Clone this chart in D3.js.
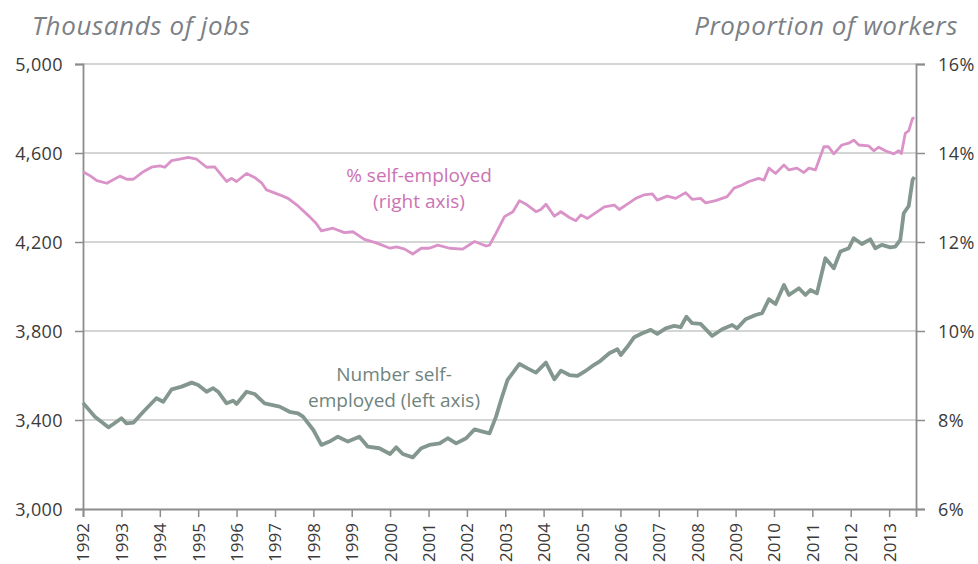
<!DOCTYPE html>
<html><head><meta charset="utf-8">
<script src="https://cdn.jsdelivr.net/npm/d3@7/dist/d3.min.js"></script>
<style>
html,body{margin:0;padding:0;background:#fff;}
svg text{font-family:"Open Sans",Lato,sans-serif;}
</style></head>
<body><svg id="chart" width="978" height="564"></svg>
<script>
// ---- data (decimal years) ----
const numYears = [1992.0,1992.31,1992.66,1992.79,1993.0,1993.13,1993.31,1993.57,1993.91,1994.09,1994.31,1994.57,1994.83,1995.0,1995.22,1995.39,1995.52,1995.74,1995.91,1996.0,1996.26,1996.47,1996.73,1997.12,1997.38,1997.6,1997.73,1998.0,1998.21,1998.42,1998.64,1998.9,1999.2,1999.42,1999.72,2000.0,2000.16,2000.33,2000.59,2000.81,2001.02,2001.29,2001.5,2001.72,2001.98,2002.2,2002.41,2002.59,2002.76,2002.89,2003.06,2003.37,2003.58,2003.8,2004.06,2004.28,2004.45,2004.67,2004.88,2005.06,2005.27,2005.45,2005.71,2005.92,2006.01,2006.18,2006.36,2006.57,2006.79,2006.96,2007.18,2007.4,2007.57,2007.72,2007.87,2008.09,2008.39,2008.65,2008.91,2009.04,2009.26,2009.52,2009.69,2009.87,2010.04,2010.26,2010.39,2010.65,2010.82,2010.95,2011.12,2011.34,2011.56,2011.73,2011.95,2012.08,2012.29,2012.51,2012.64,2012.81,2013.03,2013.16,2013.29,2013.38,2013.51,2013.61,2013.66];
const numValues = [3477,3415,3367,3382,3408,3385,3388,3437,3498,3482,3538,3550,3568,3557,3527,3543,3527,3475,3487,3472,3527,3517,3475,3460,3437,3430,3415,3355,3288,3303,3325,3303,3325,3280,3273,3247,3277,3247,3232,3273,3288,3295,3318,3295,3318,3358,3348,3340,3415,3490,3580,3652,3632,3613,3658,3583,3622,3602,3598,3617,3643,3662,3700,3718,3692,3729,3772,3790,3805,3787,3812,3823,3817,3864,3835,3832,3778,3808,3827,3812,3853,3872,3880,3943,3921,4007,3962,3992,3962,3984,3969,4127,4082,4157,4172,4217,4191,4212,4172,4187,4176,4179,4209,4329,4362,4479,4492];

const pctYears = [1992.0,1992.2,1992.36,1992.62,1992.75,1992.96,1993.14,1993.31,1993.57,1993.78,1994.0,1994.13,1994.31,1994.52,1994.74,1994.96,1995.22,1995.43,1995.74,1995.87,1996.0,1996.26,1996.47,1996.65,1996.78,1997.12,1997.34,1997.6,1997.9,1998.07,1998.21,1998.51,1998.81,1999.03,1999.33,1999.64,2000.0,2000.17,2000.38,2000.59,2000.81,2001.02,2001.24,2001.55,2001.89,2002.2,2002.5,2002.59,2002.76,2002.98,2003.2,2003.37,2003.54,2003.8,2003.93,2004.06,2004.28,2004.45,2004.67,2004.84,2004.97,2005.14,2005.36,2005.58,2005.84,2005.97,2006.18,2006.4,2006.62,2006.83,2006.96,2007.22,2007.44,2007.7,2007.87,2008.09,2008.22,2008.48,2008.78,2008.96,2009.17,2009.35,2009.6,2009.74,2009.87,2010.04,2010.26,2010.39,2010.6,2010.78,2010.91,2011.08,2011.3,2011.42,2011.56,2011.77,2011.95,2012.08,2012.21,2012.47,2012.6,2012.73,2012.9,2013.12,2013.25,2013.32,2013.42,2013.51,2013.61,2013.66];
const pctValues = [13.58,13.48,13.38,13.32,13.38,13.48,13.41,13.41,13.58,13.68,13.71,13.68,13.83,13.86,13.90,13.86,13.68,13.69,13.36,13.43,13.36,13.54,13.45,13.33,13.17,13.06,12.98,12.81,12.57,12.42,12.25,12.31,12.21,12.23,12.06,11.98,11.86,11.89,11.84,11.73,11.86,11.86,11.93,11.86,11.84,12.01,11.91,11.93,12.20,12.57,12.68,12.93,12.85,12.68,12.73,12.85,12.58,12.68,12.55,12.48,12.61,12.53,12.66,12.79,12.83,12.73,12.85,12.98,13.06,13.08,12.94,13.03,12.98,13.11,12.96,12.98,12.88,12.93,13.02,13.21,13.28,13.36,13.43,13.39,13.66,13.54,13.73,13.62,13.66,13.56,13.66,13.62,14.14,14.14,13.98,14.18,14.22,14.29,14.18,14.16,14.05,14.13,14.05,13.98,14.05,13.99,14.44,14.50,14.78,14.79];

const yearTicks = d3.range(1992, 2014);
const leftTicks = [3000, 3400, 3800, 4200, 4600, 5000];
const rightTicks = [6, 8, 10, 12, 14, 16];
const leftTitle = "Thousands of jobs";
const rightTitle = "Proportion of workers";
const pctLabel = ["% self-employed", "(right axis)"];
const numLabel = ["Number self-", "employed (left axis)"];

// ---- helpers ----
function toDate(y) {
  const yr = Math.floor(y);
  const start = new Date(yr, 0, 1).getTime();
  const end = new Date(yr + 1, 0, 1).getTime();
  return new Date(start + (y - yr) * (end - start));
}

const svg = d3.select("#chart");
const L = 83, R = 916, T = 64, B = 509;

const x = d3.scaleTime().domain([toDate(1992), toDate(2013.7)]).range([L, R]);
const yL = d3.scaleLinear().domain([3000, 5000]).range([B, T]);
const yR = d3.scaleLinear().domain([6, 16]).range([B, T]);

// gridlines
svg.append("g").selectAll("line").data(leftTicks.slice(1)).join("line")
  .attr("x1", L).attr("x2", R)
  .attr("y1", d => yL(d)).attr("y2", d => yL(d))
  .attr("stroke", "#c6c9c8").attr("stroke-width", 1.5);

// left axis
const gl = svg.append("g").attr("transform", `translate(${L},0)`)
  .call(d3.axisLeft(yL).tickValues(leftTicks).tickFormat(d3.format(",")).tickSize(8).tickPadding(12));
// right axis
const gr = svg.append("g").attr("transform", `translate(${R},0)`)
  .call(d3.axisRight(yR).tickValues(rightTicks).tickFormat(d => d + "%").tickSize(9).tickPadding(13));
// bottom axis
const gb = svg.append("g").attr("transform", `translate(0,${B})`)
  .call(d3.axisBottom(x).tickValues(yearTicks.map(y => toDate(y))).tickFormat(d3.timeFormat("%Y")).tickSize(8));

[gl, gr, gb].forEach(g => {
  g.select(".domain").attr("stroke", "#8c8c8c").attr("stroke-width", 1.8);
  g.selectAll(".tick line").attr("stroke", "#8c8c8c").attr("stroke-width", 1.5);
  g.selectAll(".tick text").attr("fill", "#3a3a3a").style("font-size", "18px");
});
gb.selectAll(".tick text")
  .attr("transform", "rotate(-90)")
  .attr("text-anchor", "end")
  .attr("x", -14).attr("y", 0).attr("dy", "0.35em")
  .style("font-size", "17px");
gl.selectAll(".tick text").attr("dy", "0.36em").attr("letter-spacing", "0.4px");
gr.selectAll(".tick text").attr("dy", "0.36em").attr("letter-spacing", "0.4px");

// lines
const numData = numYears.map((y, i) => ({d: toDate(y), v: numValues[i]}));
const pctData = pctYears.map((y, i) => ({d: toDate(y), v: pctValues[i]}));

svg.append("path").datum(pctData)
  .attr("fill", "none").attr("stroke", "#da93c8").attr("stroke-width", 2.8)
  .attr("stroke-linejoin", "round")
  .attr("d", d3.line().x(d => x(d.d)).y(d => yR(d.v)));

svg.append("path").datum(numData)
  .attr("fill", "none").attr("stroke", "#84978f").attr("stroke-width", 3.8)
  .attr("stroke-linejoin", "round")
  .attr("d", d3.line().x(d => x(d.d)).y(d => yL(d.v)));

// titles
svg.append("text").attr("x", 32).attr("y", 35)
  .attr("fill", "#7b7f86").style("font-size", "26px").style("font-style", "italic")
  .attr("letter-spacing", "0.6px")
  .text(leftTitle);
svg.append("text").attr("x", 958).attr("y", 35).attr("text-anchor", "end")
  .attr("fill", "#7b7f86").style("font-size", "26px").style("font-style", "italic")
  .attr("letter-spacing", "0.6px")
  .text(rightTitle);

// annotations
svg.append("g").selectAll("text").data(pctLabel).join("text")
  .attr("x", 419).attr("y", (d, i) => 182 + i * 26)
  .attr("text-anchor", "middle").attr("fill", "#cc72b3").style("font-size", "19px")
  .text(d => d);
svg.append("g").selectAll("text").data(numLabel).join("text")
  .attr("x", 394).attr("y", (d, i) => 381 + i * 26)
  .attr("text-anchor", "middle").attr("fill", "#6f847d").style("font-size", "19px")
  .text(d => d);
</script>
</body></html>
